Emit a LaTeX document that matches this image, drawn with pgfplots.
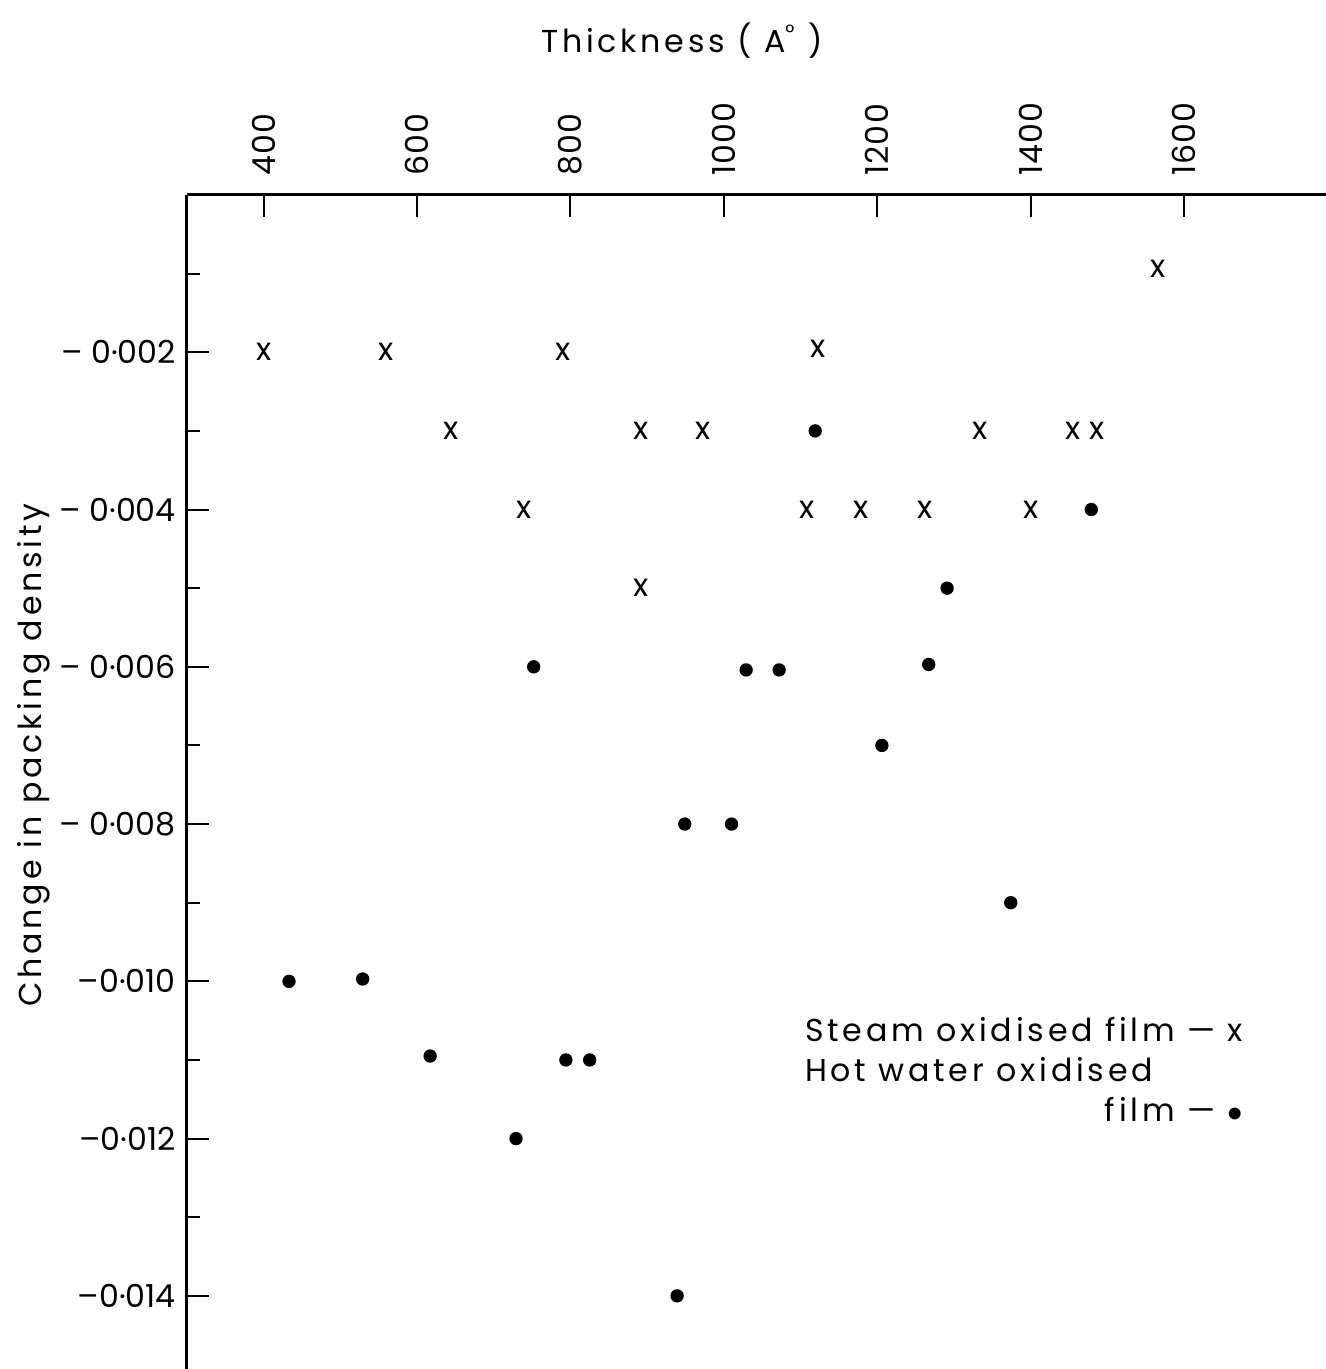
\documentclass[border=0pt]{standalone}
\usepackage{pgfplots}
\pgfplotsset{compat=1.18}
\usepackage{fontspec}
\setmainfont{Poppins}
\newfontfamily\spc[LetterSpace=12]{Poppins}
\newfontfamily\tks[LetterSpace=4]{Poppins}
\begin{document}
\fontsize{9.5}{12}\selectfont
\begin{tikzpicture}
\begin{axis}[
  scale only axis, width=341.7pt, height=352.2pt,
  xmin=300, xmax=1785, ymin=-0.01493, ymax=0,
  axis x line=top, axis y line=left,
  axis line style={-, line width=0.9pt},
  tick align=inside, major tick length=6.5pt, minor tick length=4pt,
  every tick/.style={black, line width=0.6pt},
  scaled y ticks=false, scaled x ticks=false,
  xtick={400,600,800,1000,1200,1400,1600},
  xticklabels={400,600,800,1000,1200,1400,1600},
  x tick label style={rotate=90, anchor=west, inner xsep=5.5pt, font=\tks\fontsize{9.5}{12}\selectfont},
  ytick={-0.014,-0.012,-0.010,-0.008,-0.006,-0.004,-0.002},
  yticklabels={–0·014,–0·012,–0·010,– 0·008,– 0·006,– 0·004,– 0·002},
  minor ytick={-0.013,-0.011,-0.009,-0.007,-0.005,-0.003,-0.001},
  y tick label style={font=\fontsize{9.5}{12}\selectfont},
  xlabel={Thickness ( A\textsuperscript{°} )},
  xlabel style={at={(axis description cs:0.4346,1.121)}, anchor=base, font=\spc\fontsize{9.5}{12}\selectfont},
  ylabel={Change in packing density},
  ylabel style={at={(axis description cs:-0.1275,0.523)}, anchor=base, font=\spc\fontsize{9.5}{12}\selectfont},
  clip=false,
]
% Steam oxidised film
\addplot[only marks, mark=text, text mark={x}] coordinates {
 (400,-0.002) (559,-0.002) (790,-0.002) (1123,-0.00195) (1566,-0.00094)
 (644,-0.003) (892,-0.003) (973,-0.003) (1334,-0.003) (1455,-0.003) (1486,-0.003)
 (740,-0.004) (1108,-0.004) (1179,-0.004) (1262,-0.004) (1400,-0.004)
 (892,-0.005)
};
% Hot water oxidised film
\addplot[only marks, mark=*, mark size=1.8pt, black] coordinates {
 (1119,-0.003) (1479,-0.004) (1291,-0.005)
 (752,-0.006) (1029,-0.00604) (1072,-0.00604) (1267,-0.00597)
 (1206,-0.007) (949,-0.008) (1010,-0.008) (1374,-0.009)
 (433,-0.010) (529,-0.00997) (617,-0.01095) (794,-0.011) (825,-0.011)
 (729,-0.012) (939,-0.014)
};
\node[anchor=north west, inner sep=0pt, font=\spc\fontsize{9.5}{12}\selectfont] at (axis cs:1105,-0.0104) {%
  \begin{tabular}{@{}l@{}}
  Steam oxidised film — x\\
  Hot water oxidised\\
  \hfill film — $\bullet$
  \end{tabular}};
\end{axis}
\pgfresetboundingbox
\path[use as bounding box] ([xshift=-56.1pt]current axis.south west) rectangle ([yshift=58.5pt]current axis.north east);
\end{tikzpicture}
\end{document}
